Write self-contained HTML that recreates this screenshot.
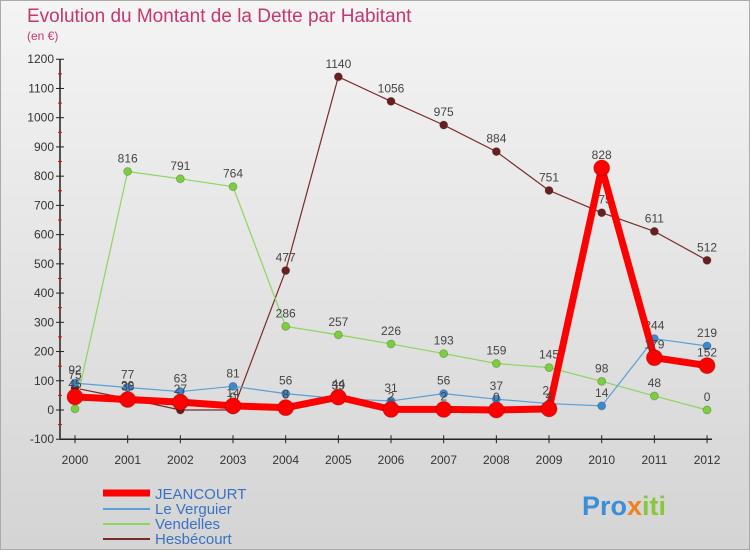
<!DOCTYPE html>
<html><head><meta charset="utf-8"><style>
body{margin:0;width:750px;height:550px;overflow:hidden;font-family:"Liberation Sans",sans-serif}
</style></head><body>
<svg id="c" width="750" height="550">
<defs><linearGradient id="bg" x1="0" y1="0" x2="0" y2="1"><stop offset="0" stop-color="#f4f4f4"/><stop offset="1" stop-color="#d4d4d4"/></linearGradient></defs>
<rect x="0.5" y="0.5" width="749" height="549" fill="url(#bg)" stroke="#aaa"/>
<text x="27" y="22" font-size="19" fill="#c8366f">Evolution du Montant de la Dette par Habitant</text>
<text x="27" y="40" font-size="12" fill="#c8366f">(en €)</text>
<g id="g"></g>
<g>
<line x1="103" y1="493" x2="150" y2="493" stroke="#f00" stroke-width="7"/><text x="155" y="499" font-size="15" fill="#3a72c2">JEANCOURT</text>
<line x1="103" y1="509" x2="150" y2="509" stroke="#5aa0d8" stroke-width="2"/><text x="155" y="514" font-size="15" fill="#3a72c2">Le Verguier</text>
<line x1="103" y1="524" x2="150" y2="524" stroke="#8fd460" stroke-width="2"/><text x="155" y="529" font-size="15" fill="#3a72c2">Vendelles</text>
<line x1="103" y1="539" x2="150" y2="539" stroke="#7a2a2a" stroke-width="2"/><text x="155" y="544" font-size="15" fill="#3a72c2">Hesbécourt</text>
</g>
<text x="582" y="515" font-size="27" font-weight="bold" fill="#3a8fd8">Pro<tspan fill="#f08020">x</tspan><tspan fill="#8ac640">iti</tspan></text>
</svg>
<script>
const years=[2000,2001,2002,2003,2004,2005,2006,2007,2008,2009,2010,2011,2012];
const yTicks=[-100,0,100,200,300,400,500,600,700,800,900,1000,1100,1200];
const jeancourt=[45,36,27,14,8,44,2,2,0,4,828,179,152];
const leVerguier=[92,77,63,81,56,39,31,56,37,22,14,244,219];
const vendelles=[4,816,791,764,286,257,226,193,159,145,98,48,0];
const hesbecourt=[75,39,0,0,477,1140,1056,975,884,751,675,611,512];
const NS="http://www.w3.org/2000/svg",g=document.getElementById('g');
const X=i=>75+i*52.67, Y=v=>410-v*0.2923;
function el(t,a,p){const e=document.createElementNS(NS,t);for(const k in a)e.setAttribute(k,a[k]);(p||g).appendChild(e);return e;}
let e=el('line',{x1:60,y1:Y(-100),x2:60,y2:Y(1200),stroke:'#222','stroke-width':1.5});

e=el('line',{x1:60,y1:Y(-100),x2:712,y2:Y(-100),stroke:'#222','stroke-width':1.5});

yTicks.forEach(v=>{
 el('line',{x1:56,y1:Y(v),x2:64,y2:Y(v),stroke:'#222'});
 if(v<1200)el('line',{x1:58,y1:Y(v+50),x2:62,y2:Y(v+50),stroke:'#e00'});
 const t=el('text',{x:54,y:Y(v)+4,'font-size':12,'text-anchor':'end',fill:'#333'});t.textContent=v;
 
});
years.forEach((y,i)=>{
 el('line',{x1:X(i),y1:Y(-100)-4,x2:X(i),y2:Y(-100)+4,stroke:'#222'});
 const t=el('text',{x:X(i),y:Y(-100)+25,'font-size':12,'text-anchor':'middle',fill:'#333'});t.textContent=y;
 
});
function series(d,col,w,r,name,dot){
 const s=el('g',{});
 el('polyline',{points:d.map((v,i)=>X(i)+','+Y(v)).join(' '),fill:'none',stroke:col,'stroke-width':w,'stroke-linejoin':'round'},s);
 d.forEach((v,i)=>{
  const c=el('circle',{cx:X(i),cy:Y(v),r:r,fill:dot,stroke:'rgba(0,0,0,0.2)'},s);
  
  const t=el('text',{x:X(i),y:Y(v)-9,'font-size':12,'text-anchor':'middle',fill:'#444'},s);t.textContent=v;
 });
}
series(hesbecourt,'#7a2a2a',1.2,4,'series-hesbecourt','#6a1f1f');
series(vendelles,'#8fd460',1.2,4,'series-vendelles','#7ccf3c');
series(leVerguier,'#5aa0d8',1.2,4,'series-le-verguier','#3a8ad0');
series(jeancourt,'#f00',7,8,'series-jeancourt','#f00');
</script>
</body></html>
